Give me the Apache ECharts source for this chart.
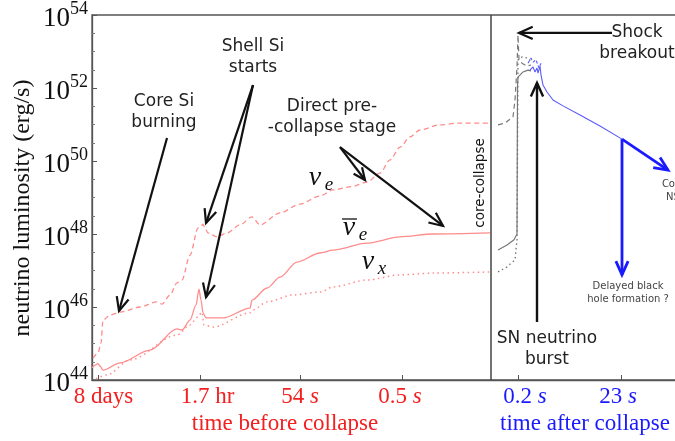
<!DOCTYPE html>
<html>
<head>
<meta charset="utf-8">
<script src="https://cdn.jsdelivr.net/npm/echarts@6/dist/echarts.min.js"></script>
<style>html,body{margin:0;padding:0;background:#fff}#c{width:675px;height:441px}</style>
</head>
<body>
<div id="c"></div>
<script>
// x values: abstract position along the (non-uniform) time axis; y values: log10 luminosity (erg/s)
const nueBefore = [[0.01,44.60],[0.06,44.74],[0.09,45.01],[0.11,45.64],[0.18,45.78],[0.28,45.86],[0.48,46.00],[0.65,46.14],[0.70,46.08],[0.78,46.33],[0.85,46.66],[0.90,46.74],[0.98,47.42],[1.06,48.16],[1.09,48.22],[1.11,48.27],[1.13,48.16],[1.16,48.03],[1.25,47.92],[1.35,48.03],[1.48,48.25],[1.60,48.47],[1.68,48.25],[1.88,48.58],[2.08,48.82],[2.28,49.04],[2.41,49.21],[2.60,49.30],[2.75,49.42],[2.88,49.67],[2.98,50.03],[3.08,50.38],[3.18,50.66],[3.28,50.85],[3.48,50.99],[3.68,51.04],[3.98,51.04]];
const nuebarBefore = [[0.00,44.33],[0.03,44.41],[0.06,44.45],[0.08,44.38],[0.11,44.27],[0.28,44.47],[0.58,44.82],[0.85,45.40],[0.90,45.37],[0.98,45.64],[1.04,46.05],[1.07,46.49],[1.09,46.19],[1.11,45.84],[1.14,45.70],[1.31,45.70],[1.58,45.97],[1.60,46.19],[1.75,46.52],[1.88,46.82],[2.05,47.23],[2.28,47.48],[2.41,47.56],[2.75,47.75],[3.08,47.92],[3.41,48.00],[3.98,48.03]];
const nuxBefore = [[0.04,44.03],[0.15,44.14],[0.38,44.55],[0.85,45.23],[0.98,45.51],[1.06,45.73],[1.10,45.86],[1.12,45.51],[1.21,45.45],[1.58,45.84],[1.61,45.92],[1.75,46.14],[2.01,46.33],[2.28,46.41],[2.41,46.55],[2.75,46.74],[3.08,46.88],[3.41,46.93],[3.98,46.96]];
const nueAfter = [[4.06,50.99],[4.13,51.04],[4.21,51.21],[4.23,51.67],[4.25,52.58],[4.26,53.45],[4.27,52.77],[4.30,52.68],[4.35,52.60],[4.39,52.63]];
const nuebarAfter = [[4.06,47.56],[4.15,47.70],[4.22,47.84],[4.25,48.00],[4.255,52.03],[4.26,52.30],[4.31,52.44],[4.36,52.49],[4.39,52.47]];
const nuxAfter = [[4.06,46.96],[4.15,47.10],[4.23,47.29],[4.25,47.84],[4.26,52.77],[4.30,52.85],[4.36,52.82],[4.40,52.71]];
const coolingBlue = [[4.38,52.49],[4.41,52.58],[4.43,52.44],[4.45,52.55],[4.46,52.41],[4.48,52.60],[4.49,52.36],[4.51,52.08],[4.55,51.89],[4.61,51.67],[4.71,51.51],[4.88,51.26],[5.08,50.96],[5.30,50.60]];
const coolingBlueDashed = [[4.36,52.68],[4.39,52.82],[4.41,52.71],[4.44,52.77],[4.47,52.55],[4.49,52.68]];

const xTickPos = [0.06, 1.08, 2.08, 3.10, 4.26, 5.29];
const xLabelPos = [0.115, 1.155, 2.08, 3.08, 4.33, 5.26];
const xLabelText = ['8 days', '1.7 hr', '54 s', '0.5 s', '0.2 s', '23 s'];
const xLabelSide = ['r', 'r', 'r', 'r', 'b', 'b'];
const collapseX = 3.99;
const yTickMin = 44, yTickMax = 54, yTickStep = 2;

const chart = echarts.init(document.getElementById('c'), null, {renderer: 'canvas'});
const SERIF = 'Liberation Serif';
const SANS = 'DejaVu Sans';
const RED = '#f22020', BLUE = '#1a1aff';
const PINK = '#ff8c8c';

function fmtX(v) {
  let best = 0;
  for (let i = 1; i < xLabelPos.length; i++) if (Math.abs(xLabelPos[i] - v) < Math.abs(xLabelPos[best] - v)) best = i;
  const t = xLabelText[best], c = xLabelSide[best];
  if (t.endsWith(' s')) return '{' + c + '|' + t.slice(0, -1) + '}{' + c + 'i|s}';
  return '{' + c + '|' + t + '}';
}
const lineBase = {type: 'line', showSymbol: false, symbol: 'none', smooth: 0.3, smoothMonotone: 'x', animation: false, silent: true};

chart.setOption({
  animation: false,
  grid: {left: 92, top: 15, bottom: 61, right: -35, show: true, borderColor: '#555', borderWidth: 1.3, outerBoundsMode: 'none', containLabel: false},
  xAxis: {
    type: 'value', min: 0, max: 6.18,
    axisLine: {lineStyle: {color: '#555', width: 1.3}},
    axisTick: {inside: true, length: 5, customValues: xTickPos, lineStyle: {color: '#555'}},
    axisLabel: {
      customValues: xLabelPos, formatter: fmtX, margin: 4,
      rich: {
        r: {color: RED, fontFamily: SERIF, fontSize: 23, lineHeight: 26},
        ri: {color: RED, fontFamily: SERIF, fontStyle: 'italic', fontSize: 23, lineHeight: 26},
        b: {color: BLUE, fontFamily: SERIF, fontSize: 23, lineHeight: 26},
        bi: {color: BLUE, fontFamily: SERIF, fontStyle: 'italic', fontSize: 23, lineHeight: 26}
      }
    },
    splitLine: {show: false}
  },
  yAxis: {
    type: 'value', min: yTickMin, max: yTickMax, interval: yTickStep,
    axisLine: {show: true, lineStyle: {color: '#555', width: 1.3}},
    axisTick: {inside: true, length: 5, lineStyle: {color: '#555'}},
    minorTick: {show: true, splitNumber: 4, length: 3, lineStyle: {color: '#777'}},
    axisLabel: {
      margin: 4,
      formatter: v => '{b|10}{s|' + v + '}',
      rich: {
        b: {fontFamily: SERIF, fontSize: 27, color: '#111', lineHeight: 30, padding: [8, 0, 0, 0]},
        s: {fontFamily: SERIF, fontSize: 18, color: '#111', verticalAlign: 'top', lineHeight: 18}
      }
    },
    splitLine: {show: false}
  },
  series: [
    Object.assign({}, lineBase, {name: 'nue', data: nueBefore, lineStyle: {color: PINK, width: 1.3, type: [5, 3.5]},
      markLine: {silent: true, symbol: ['none', 'none'], label: {show: false}, lineStyle: {color: '#444', width: 1.5, type: 'solid'}, data: [{xAxis: collapseX}], animation: false}}),
    Object.assign({}, lineBase, {name: 'nuebar', data: nuebarBefore, lineStyle: {color: PINK, width: 1.3}}),
    Object.assign({}, lineBase, {name: 'nux', data: nuxBefore, lineStyle: {color: PINK, width: 1.5, type: [1.5, 3.5]}}),
    Object.assign({}, lineBase, {name: 'nue2', smooth: false, data: nueAfter, lineStyle: {color: '#777', width: 1.2, type: [5, 3.5]}}),
    Object.assign({}, lineBase, {name: 'nuebar2', smooth: false, data: nuebarAfter, lineStyle: {color: '#777', width: 1.2}}),
    Object.assign({}, lineBase, {name: 'nux2', smooth: false, data: nuxAfter, lineStyle: {color: '#777', width: 1.4, type: [1.5, 3]}}),
    Object.assign({}, lineBase, {name: 'cool', smooth: false, data: coolingBlue, lineStyle: {color: '#5a5aff', width: 1.1}}),
    Object.assign({}, lineBase, {name: 'cool2', smooth: false, data: coolingBlueDashed, lineStyle: {color: '#5a5aff', width: 1.1, type: [3, 2]}})
  ]
});

const px = p => chart.convertToPixel({gridIndex: 0}, p);
function arrow(from, to, color, w, head) {
  const p0 = px(from), p1 = px(to);
  const ang = Math.atan2(p1[1] - p0[1], p1[0] - p0[0]);
  const a1 = ang + Math.PI - 0.42, a2 = ang + Math.PI + 0.42;
  return [
    {type: 'line', silent: true, z: 50, shape: {x1: p0[0], y1: p0[1], x2: p1[0], y2: p1[1]}, style: {stroke: color, lineWidth: w}},
    {type: 'polyline', silent: true, z: 50, shape: {points: [[p1[0] + head * Math.cos(a1), p1[1] + head * Math.sin(a1)], [p1[0], p1[1]], [p1[0] + head * Math.cos(a2), p1[1] + head * Math.sin(a2)]]}, style: {stroke: color, lineWidth: w, fill: null}}
  ];
}
function txt(x, y, text, o) {
  o = o || {};
  return {type: 'text', silent: true, z: 60, x: x, y: y, rotation: o.rot || 0,
    style: {text: text, fontFamily: o.ff || SANS, fontSize: o.fs || 17, fontStyle: o.it ? 'italic' : 'normal', fill: o.c || '#222', align: 'center', verticalAlign: 'middle', lineHeight: o.lh || 21}};
}
const K = '#111';
let g = [];
g = g.concat(arrow([0.75, 50.63], [0.27, 45.89], K, 2.2, 15));
g = g.concat(arrow([1.61, 52.08], [1.14, 48.30], K, 2.2, 15));
g = g.concat(arrow([1.61, 52.08], [1.14, 46.27], K, 2.2, 15));
g = g.concat(arrow([2.48, 50.38], [2.73, 49.48], K, 2.2, 13));
g = g.concat(arrow([2.48, 50.38], [3.51, 48.22], K, 2.2, 15));
g = g.concat(arrow([5.20, 53.51], [4.27, 53.51], K, 2.2, 15));
g = g.concat(arrow([4.45, 45.59], [4.45, 52.14], K, 2.4, 15));
g = g.concat(arrow([5.30, 50.60], [5.30, 46.88], BLUE, 2.8, 15));
g = g.concat(arrow([5.30, 50.60], [5.76, 49.75], BLUE, 2.8, 15));

g.push(txt(164, 112, 'Core Si\nburning'));
g.push(txt(253, 57, 'Shell Si\nstarts'));
g.push(txt(332, 117, 'Direct pre-\n-collapse stage'));
g.push(txt(637, 43, 'Shock\nbreakout'));
g.push(txt(547, 349, 'SN neutrino\nburst'));
g.push(txt(628, 293, 'Delayed black\nhole formation ?', {fs: 10, lh: 13, c: '#444'}));
g.push(txt(673, 191, 'Cold\nNS', {fs: 10, lh: 13, c: '#444'}));
g.push(txt(480, 183, 'core-collapse', {fs: 13.5, c: '#111', rot: Math.PI / 2}));
// neutrino flavour labels
g.push(txt(315, 178, 'ν', {ff: SERIF, fs: 28, it: true, c: '#111'}));
g.push(txt(329, 185, 'e', {ff: SERIF, fs: 19, it: true, c: '#111'}));
g.push(txt(349, 228, 'ν', {ff: SERIF, fs: 28, it: true, c: '#111'}));
g.push(txt(363, 235, 'e', {ff: SERIF, fs: 19, it: true, c: '#111'}));
g.push({type: 'line', silent: true, z: 60, shape: {x1: 342, y1: 219, x2: 357, y2: 219}, style: {stroke: '#111', lineWidth: 1.3}});
g.push(txt(368, 262, 'ν', {ff: SERIF, fs: 28, it: true, c: '#111'}));
g.push(txt(382, 269, 'x', {ff: SERIF, fs: 19, it: true, c: '#111'}));
// axis titles
g.push(txt(23, 208, 'neutrino luminosity (erg/s)', {ff: SERIF, fs: 24, c: '#111', rot: Math.PI / 2}));
g.push(txt(285, 424, 'time before collapse', {ff: SERIF, fs: 23, c: RED}));
g.push(txt(585, 424, 'time after collapse', {ff: SERIF, fs: 23, c: BLUE}));

chart.setOption({graphic: g});
</script>
</body>
</html>
